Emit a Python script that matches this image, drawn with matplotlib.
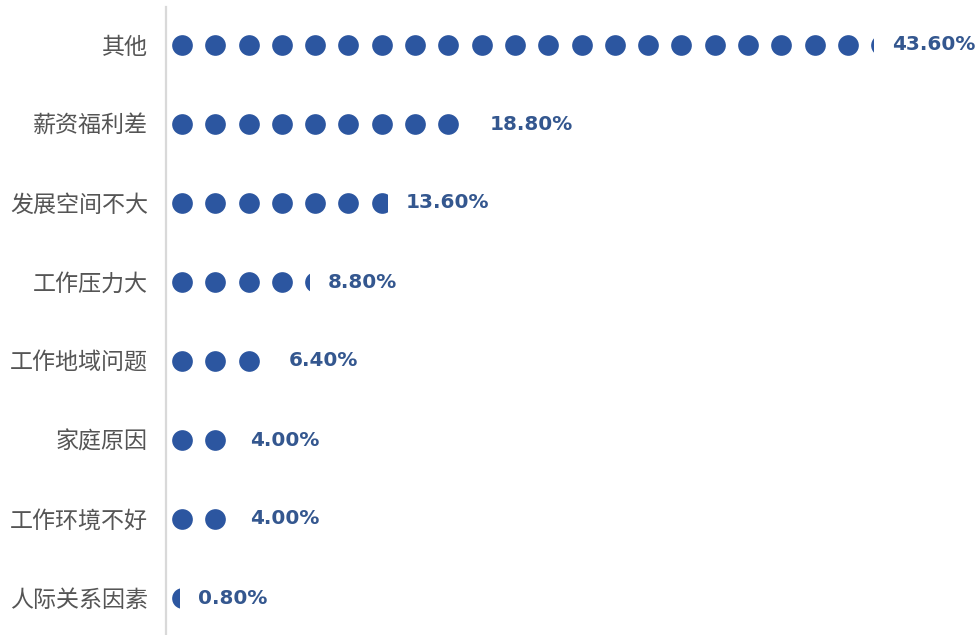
import matplotlib
matplotlib.use("Agg")
import matplotlib.pyplot as plt
from matplotlib.patches import Rectangle
import numpy as np

plt.rcParams['font.family'] = ['Noto Sans CJK SC', 'DejaVu Sans']

categories = ["其他", "薪资福利差", "发展空间不大", "工作压力大", "工作地域问题", "家庭原因", "工作环境不好", "人际关系因素"]
values = [43.6, 18.8, 13.6, 8.8, 6.4, 4.0, 4.0, 0.8]
value_labels = ["43.60%", "18.80%", "13.60%", "8.80%", "6.40%", "4.00%", "4.00%", "0.80%"]

W, H = 979, 635
fig = plt.figure(figsize=(W / 100, H / 100), dpi=100)
px_per_unit = 16.22
x0 = 166
# axes: top at pixel 5.5, band height 79 px
ax = fig.add_axes([x0 / W, (H - 637.5) / H, 1 - x0 / W, 632 / H])
ax.set_xlim(0, (W - x0) / px_per_unit)
ax.set_ylim(len(categories) - 0.5, -0.5)

slot = 33.3 / px_per_unit
first = 16.0 / px_per_unit
radius = 10.3 / px_per_unit
circle_color = '#2c56a0'
text_color = '#34578f'

for i, (v, lab) in enumerate(zip(values, value_labels)):
    n = int(np.ceil((v - first + radius) / slot)) + 1
    xs = first + slot * np.arange(n)
    xs = xs[xs - radius < v]
    sc = ax.scatter(xs, np.full(len(xs), i), s=222, color=circle_color, linewidths=0, zorder=3)
    clip = Rectangle((0, i - 0.5), v, 1.0, transform=ax.transData, facecolor='none', edgecolor='none')
    ax.add_patch(clip)
    sc.set_clip_path(clip)
    ax.annotate(lab, xy=(v, i), xytext=(19, 0), textcoords='offset pixels',
                ha='left', va='center', fontsize=14.4, fontweight='bold',
                color=text_color, family='DejaVu Sans')

ax.set_yticks(range(len(categories)))
ax.set_yticklabels(categories, fontsize=16.6, color='#555555')
ax.tick_params(axis='y', length=0, pad=13)
ax.set_xticks([])
for s in ax.spines.values():
    s.set_visible(False)
ax.plot([0, 0], [7.53, -0.48], color='#d9d9d9', lw=1.6, clip_on=False, zorder=1)

fig.savefig("out.png", dpi=100)
